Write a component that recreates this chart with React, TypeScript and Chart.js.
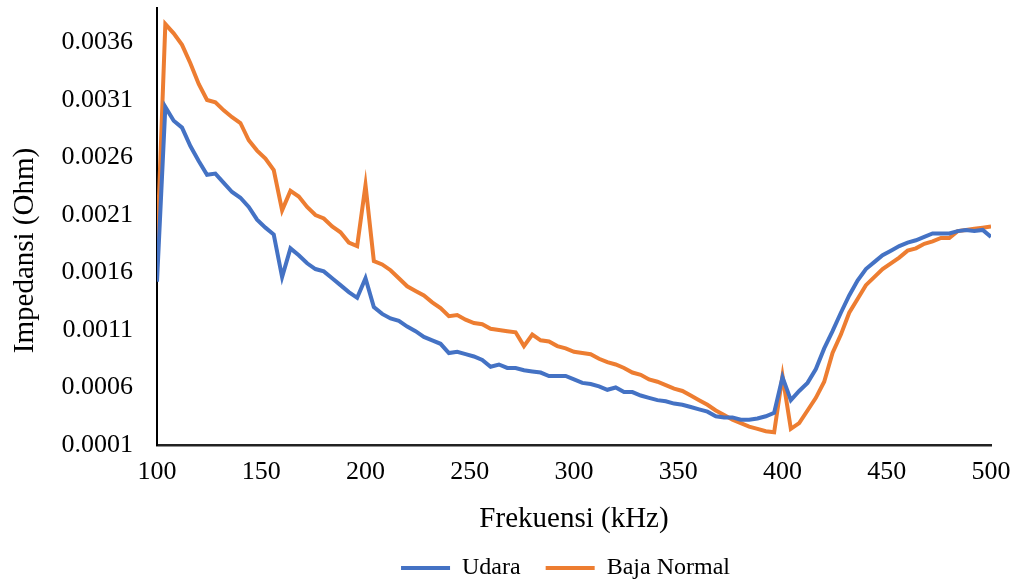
import React, { useEffect, useRef } from "react";
import { Chart, registerables } from "chart.js";

Chart.register(...registerables);

const frequencies = [
  100, 104, 108, 112, 116, 120, 124, 128, 132, 136,
  140, 144, 148, 152, 156, 160, 164, 168, 172, 176,
  180, 184, 188, 192, 196, 200, 204, 208, 212, 216,
  220, 224, 228, 232, 236, 240, 244, 248, 252, 256,
  260, 264, 268, 272, 276, 280, 284, 288, 292, 296,
  300, 304, 308, 312, 316, 320, 324, 328, 332, 336,
  340, 344, 348, 352, 356, 360, 364, 368, 372, 376,
  380, 384, 388, 392, 396, 400, 404, 408, 412, 416,
  420, 424, 428, 432, 436, 440, 444, 448, 452, 456,
  460, 464, 468, 472, 476, 480, 484, 488, 492, 496,
  500,
];

const udara = [
  0.00152, 0.00304, 0.00292, 0.00286, 0.0027, 0.00257, 0.00245, 0.00246, 0.00238, 0.0023,
  0.00225, 0.00217, 0.00206, 0.00199, 0.00193, 0.00156, 0.00181, 0.00175, 0.00168, 0.00163,
  0.00161, 0.00155, 0.00149, 0.00143, 0.00138, 0.00155, 0.0013, 0.00124, 0.0012, 0.00118,
  0.00113, 0.00109, 0.00104, 0.00101, 0.00098, 0.0009, 0.00091, 0.00089, 0.00087, 0.00084,
  0.00078, 0.0008, 0.00077, 0.00077, 0.00075, 0.00074, 0.00073, 0.0007, 0.0007, 0.0007,
  0.00067, 0.00064, 0.00063, 0.00061, 0.00058, 0.0006, 0.00056, 0.00056, 0.00053, 0.00051,
  0.00049, 0.00048, 0.00046, 0.00045, 0.00043, 0.00041, 0.00039, 0.00035, 0.00034, 0.00034,
  0.00032, 0.00032, 0.00033, 0.00035, 0.00038, 0.00069, 0.00049, 0.00057, 0.00064, 0.00076,
  0.00094, 0.00109, 0.00125, 0.0014, 0.00153, 0.00163, 0.00169, 0.00175, 0.00179, 0.00183,
  0.00186, 0.00188, 0.00191, 0.00194, 0.00194, 0.00194, 0.00196, 0.00197, 0.00196, 0.00197,
  0.00191,
];

const bajaNormal = [
  0.00179, 0.00376, 0.00368, 0.00358, 0.00342, 0.00324, 0.0031, 0.00308, 0.00301, 0.00295,
  0.0029, 0.00275, 0.00266, 0.00259, 0.00249, 0.00214, 0.00231, 0.00226, 0.00217, 0.0021,
  0.00207, 0.002, 0.00195, 0.00186, 0.00183, 0.00236, 0.0017, 0.00167, 0.00162, 0.00155,
  0.00148, 0.00144, 0.0014, 0.00134, 0.00129, 0.00122, 0.00123, 0.00119, 0.00116, 0.00115,
  0.00111, 0.0011, 0.00109, 0.00108, 0.00096, 0.00106, 0.00101, 0.001, 0.00096, 0.00094,
  0.00091, 0.0009, 0.00089, 0.00085, 0.00082, 0.0008, 0.00077, 0.00073, 0.00071, 0.00067,
  0.00065, 0.00062, 0.00059, 0.00057, 0.00053, 0.00049, 0.00045, 0.0004, 0.00036, 0.00032,
  0.00029, 0.00026, 0.00024, 0.00022, 0.00021, 0.0007, 0.00024, 0.00029, 0.0004, 0.00051,
  0.00065, 0.0009, 0.00106, 0.00125, 0.00137, 0.00149, 0.00156, 0.00163, 0.00168, 0.00173,
  0.00179, 0.00181, 0.00185, 0.00187, 0.0019, 0.0019, 0.00196, 0.00197, 0.00198, 0.00199,
  0.002,
];

const yTicks = [0.0001, 0.0006, 0.0011, 0.0016, 0.0021, 0.0026, 0.0031, 0.0036];
const xTicks = [100, 150, 200, 250, 300, 350, 400, 450, 500];

const FONT = "'Liberation Serif', 'Times New Roman', serif";

const legendShift = {
  id: "legendShift",
  afterLayout(chart: any) {
    const lg = chart.legend;
    if (lg) {
      lg.left += 70;
      lg.right += 70;
      lg.top -= 15;
      lg.bottom -= 15;
    }
  },
};

export default function App() {
  const canvasRef = useRef<HTMLCanvasElement | null>(null);

  useEffect(() => {
    if (!canvasRef.current) return;
    const toPoints = (vals: number[]) => frequencies.map((f, i) => ({ x: f, y: vals[i] }));
    const chart = new Chart(canvasRef.current, {
      type: "line",
      data: {
        datasets: [
          {
            label: "Udara",
            data: toPoints(udara),
            borderColor: "#4472C4",
            backgroundColor: "#4472C4",
            borderWidth: 4,
            pointRadius: 0,
            tension: 0,
          },
          {
            label: "Baja Normal",
            data: toPoints(bajaNormal),
            borderColor: "#ED7D31",
            backgroundColor: "#ED7D31",
            borderWidth: 4,
            pointRadius: 0,
            tension: 0,
          },
        ],
      },
      plugins: [legendShift],
      options: {
        animation: false,
        responsive: true,
        maintainAspectRatio: false,
        layout: { padding: { left: 0, right: 26, top: 8, bottom: -24 } },
        plugins: {
          tooltip: { enabled: false },
          legend: {
            position: "bottom",
            labels: {
              font: { family: FONT, size: 24 },
              color: "#000",
              usePointStyle: true,
              pointStyle: "line",
              pointStyleWidth: 49,
              padding: 25,
            },
          },
        },
        scales: {
          x: {
            type: "linear",
            min: 100,
            max: 500,
            afterBuildTicks: (scale: any) => {
              scale.ticks = xTicks.map((v) => ({ value: v }));
            },
            afterFit: (scale: any) => {
              scale.height = 101;
              scale.paddingRight = 0;
              scale.paddingLeft = 0;
            },
            grid: {
              display: true,
              drawOnChartArea: false,
              drawTicks: true,
              tickLength: 12,
              color: "rgba(0,0,0,0)",
            },
            border: { display: true, color: "#222", width: 2.5 },
            ticks: {
              font: { family: FONT, size: 26 },
              color: "#000",
              padding: 0,
              maxRotation: 0,
            },
            title: {
              display: true,
              text: "Frekuensi (kHz)",
              font: { family: FONT, size: 29 },
              color: "#000",
              padding: { top: 0, bottom: 9 },
            },
          },
          y: {
            type: "linear",
            min: 0.0001,
            max: 0.0039,
            afterBuildTicks: (scale: any) => {
              scale.ticks = yTicks.map((v) => ({ value: v }));
            },
            afterFit: (scale: any) => {
              scale.width = 157;
              scale.paddingTop = 0;
              scale.paddingBottom = 0;
              if (!scale.__titleShifted) {
                const orig = scale.drawTitle.bind(scale);
                scale.drawTitle = function () {
                  const ctx = this.ctx;
                  ctx.save();
                  ctx.translate(0, 24);
                  orig();
                  ctx.restore();
                };
                scale.__titleShifted = true;
              }
            },
            grid: {
              display: true,
              drawOnChartArea: false,
              drawTicks: true,
              tickLength: 24,
              color: "rgba(0,0,0,0)",
            },
            border: { display: true, color: "#000", width: 2 },
            ticks: {
              font: { family: FONT, size: 26 },
              color: "#000",
              padding: 0,
              callback: (v: any) => Number(v).toFixed(4),
            },
            title: {
              display: true,
              text: "Impedansi (Ohm)",
              font: { family: FONT, size: 29 },
              color: "#000",
              padding: { top: 8, bottom: 0 },
            },
          },
        },
      },
    });
    return () => chart.destroy();
  }, []);

  return (
    <div style={{ position: "fixed", left: 0, top: 0, width: 1017, height: 581, background: "#fff" }}>
      <canvas ref={canvasRef} />
    </div>
  );
}
